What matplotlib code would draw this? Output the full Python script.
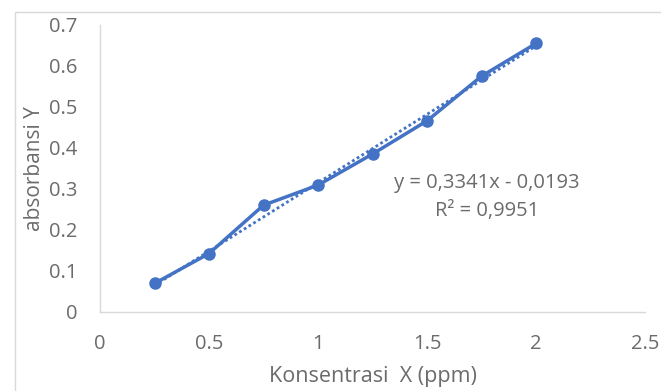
import matplotlib
matplotlib.use("Agg")
import matplotlib.pyplot as plt
import numpy as np
from matplotlib.patches import Rectangle

plt.rcParams['font.family'] = ['Open Sans', 'DejaVu Sans']

x_vals = [0.25, 0.5, 0.75, 1.0, 1.25, 1.5, 1.75, 2.0]
y_vals = [0.069, 0.142, 0.260, 0.309, 0.385, 0.466, 0.575, 0.655]
slope = 0.3341
intercept = -0.0193
eq_text = "y = 0,3341x - 0,0193"
r2_text = "R² = 0,9951"
x_ticks = [0, 0.5, 1, 1.5, 2, 2.5]
x_ticklabels = ["0", "0.5", "1", "1.5", "2", "2.5"]
y_ticks = [0, 0.1, 0.2, 0.3, 0.4, 0.5, 0.6, 0.7]
y_ticklabels = ["0", "0.1", "0.2", "0.3", "0.4", "0.5", "0.6", "0.7"]

blue = "#4472C4"
gray = "#6b6b6b"

fig = plt.figure(figsize=(6.61, 3.91), dpi=100)
fig.patches.append(Rectangle((15/661, -0.1), 1.2, 1 - 12/391 + 0.1, transform=fig.transFigure,
                             fill=False, edgecolor="#D9D9D9", linewidth=1))
ax = fig.add_axes([100/661, 1 - 311.7/391, 545/661, (311.7 - 25)/391])

xs = np.array([x_vals[0], x_vals[-1]])
ax.plot(xs, slope * xs + intercept, linestyle=(0, (1, 1)), color=blue, linewidth=2)
ax.plot(x_vals, y_vals, color=blue, linewidth=2.5, marker='o', markersize=8,
        markerfacecolor=blue, markeredgecolor=blue)

ax.set_xlim(0, 2.5)
ax.set_ylim(0, 0.7)
ax.set_xticks(x_ticks)
ax.set_xticklabels(x_ticklabels)
ax.set_yticks(y_ticks)
ax.set_yticklabels(y_ticklabels)
ax.tick_params(length=0, labelsize=14.5, colors=gray)
ax.tick_params(axis='x', pad=16)
ax.tick_params(axis='y', pad=16)
for s in ['top', 'right']:
    ax.spines[s].set_visible(False)
for s in ['left', 'bottom']:
    ax.spines[s].set_color("#D9D9D9")
    ax.spines[s].set_linewidth(1)

ax.set_xlabel("Konsentrasi  X (ppm)", fontsize=15.5, color=gray, labelpad=9)
ax.set_ylabel("absorbansi Y", fontsize=15, color=gray, labelpad=3)

ax.text(1.775, 0.314, eq_text, ha='center', va='center', fontsize=14.5, color=gray)
ax.text(1.775, 0.245, r2_text, ha='center', va='center', fontsize=14.5, color=gray)

fig.savefig("out.png", dpi=100)
